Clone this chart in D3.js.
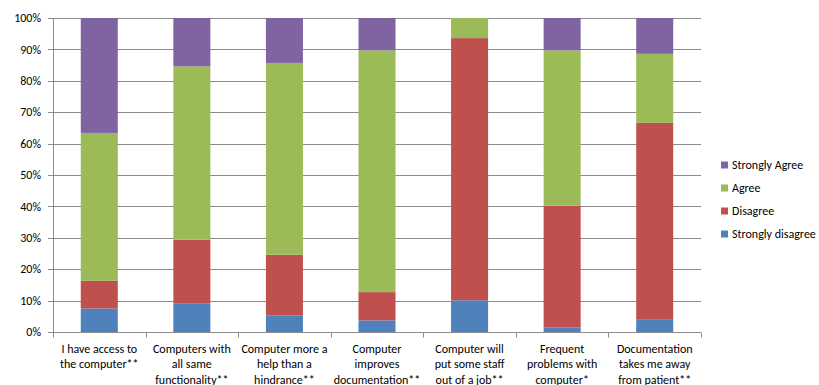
<!DOCTYPE html>
<html>
<head>
<meta charset="utf-8">
<script src="https://cdn.jsdelivr.net/npm/d3@7"></script>
<style>
  body { margin: 0; background: #fff; }
  text { font-family: Carlito, Lato, "Open Sans", sans-serif; fill: #000; }
</style>
</head>
<body>
<div id="chart"></div>
<script>
// categories (x labels, already wrapped into lines)
var categories = [
  ["I have access to", "the computer**"],
  ["Computers with", "all same", "functionality**"],
  ["Computer more a", "help than a", "hindrance**"],
  ["Computer", "improves", "documentation**"],
  ["Computer will", "put some staff", "out of a job**"],
  ["Frequent", "problems with", "computer*"],
  ["Documentation", "takes me away", "from patient**"]
];

var series_names = ["Strongly disagree", "Disagree", "Agree", "Strongly Agree"];
var series_colors = ["#4F81BD", "#C0504D", "#9BBB59", "#8064A2"];

// percent per category
var strongly_disagree = [7.5, 9.0, 5.3, 3.7, 10.1, 1.4, 3.9];
var disagree          = [8.8, 20.4, 19.3, 9.0, 83.5, 38.8, 62.7];
var agree             = [47.1, 55.2, 61.1, 77.0, 6.4, 49.5, 22.0];
var strongly_agree    = [36.6, 15.4, 14.3, 10.3, 0.0, 10.3, 11.4];

var y_ticks = [0, 10, 20, 30, 40, 50, 60, 70, 80, 90, 100];

var width = 819, height = 385;
var margin = {top: 18, left: 53, right: 118, bottom: 53};
var fs = "12px";

var svg = d3.select("#chart").append("svg")
  .attr("width", width)
  .attr("height", height);

var x = d3.scaleBand()
  .domain(d3.range(categories.length))
  .range([margin.left, width - margin.right])
  .paddingInner(0.6)
  .paddingOuter(0.3);

var y = d3.scaleLinear()
  .domain([0, 100])
  .range([height - margin.bottom, margin.top]);

// stacked data
var rows = categories.map(function(c, i) {
  return {i: i, sd: strongly_disagree[i], d: disagree[i], a: agree[i], sa: strongly_agree[i]};
});
var stack = d3.stack().keys(["sd", "d", "a", "sa"]);
var layers = stack(rows);

// gridlines
svg.append("g")
  .selectAll("line")
  .data(y_ticks)
  .join("line")
  .attr("x1", margin.left - 5)
  .attr("x2", width - margin.right)
  .attr("y1", function(d) { return Math.round(y(d)) + 0.5; })
  .attr("y2", function(d) { return Math.round(y(d)) + 0.5; })
  .attr("stroke", "#8c8c8c")
  .attr("stroke-width", 1);

// y labels
svg.append("g")
  .selectAll("text")
  .data(y_ticks)
  .join("text")
  .attr("x", margin.left - 12)
  .attr("y", function(d) { return y(d); })
  .attr("dy", "0.35em")
  .attr("text-anchor", "end")
  .style("font-size", fs)
  .text(function(d) { return d + "%"; });

// bars
svg.append("g")
  .selectAll("g")
  .data(layers)
  .join("g")
  .attr("fill", function(d, k) { return series_colors[k]; })
  .selectAll("rect")
  .data(function(d) { return d; })
  .join("rect")
  .attr("x", function(d) { return x(d.data.i); })
  .attr("width", x.bandwidth())
  .attr("y", function(d) { return y(d[1]); })
  .attr("height", function(d) { return y(d[0]) - y(d[1]); });

// axes lines
var x0 = margin.left, x1 = width - margin.right, yb = Math.round(y(0)) + 0.5;
svg.append("line")
  .attr("x1", x0 + 0.5).attr("x2", x0 + 0.5)
  .attr("y1", y(100)).attr("y2", yb)
  .attr("stroke", "#8c8c8c");
svg.append("line")
  .attr("x1", x0).attr("x2", x1)
  .attr("y1", yb).attr("y2", yb)
  .attr("stroke", "#8c8c8c");

// x ticks at category boundaries
var step = (x1 - x0) / categories.length;
svg.append("g")
  .selectAll("line")
  .data(d3.range(categories.length + 1))
  .join("line")
  .attr("x1", function(d) { return Math.round(x0 + d * step) + 0.5; })
  .attr("x2", function(d) { return Math.round(x0 + d * step) + 0.5; })
  .attr("y1", yb)
  .attr("y2", yb + 5)
  .attr("stroke", "#8c8c8c");

// x labels
var xl = svg.append("g")
  .selectAll("text")
  .data(categories)
  .join("text")
  .attr("text-anchor", "middle")
  .style("font-size", fs)
  .attr("x", function(d, i) { return x(i) + x.bandwidth() / 2; })
  .attr("y", yb + 20);
xl.selectAll("tspan")
  .data(function(d) { return d; })
  .join("tspan")
  .attr("x", function() { return d3.select(this.parentNode).attr("x"); })
  .attr("dy", function(d, j) { return j === 0 ? 0 : 15.5; })
  .text(function(d) { return d; });

// legend (reverse order)
var legend = svg.append("g")
  .selectAll("g")
  .data(series_names.slice().reverse())
  .join("g")
  .attr("transform", function(d, k) { return "translate(721," + (165 + k * 23) + ")"; });
legend.append("rect")
  .attr("x", 0).attr("y", -3.5)
  .attr("width", 7).attr("height", 7)
  .attr("fill", function(d) { return series_colors[series_names.indexOf(d)]; });
legend.append("text")
  .attr("x", 11)
  .attr("dy", "0.35em")
  .style("font-size", fs)
  .text(function(d) { return d; });
</script>
</body>
</html>
